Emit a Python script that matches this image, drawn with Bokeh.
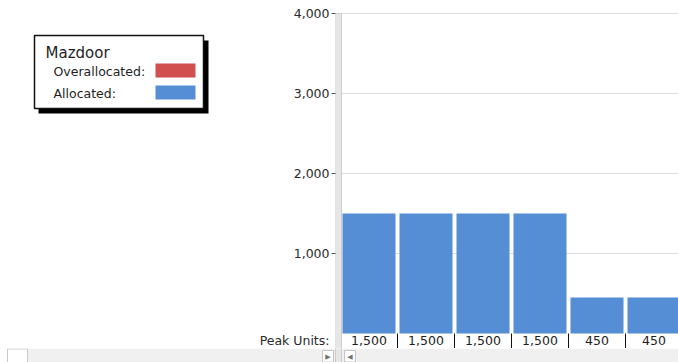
import math
from bokeh.plotting import figure
from bokeh.layouts import row, column
from bokeh.models import Range1d, FixedTicker, NumeralTickFormatter, LinearAxis
from bokeh.core.properties import value
from bokeh.embed import file_html
from bokeh.resources import INLINE

# ---------------- data ----------------
resource_name = "Mazdoor"
periods = [0, 1, 2, 3, 4, 5]
allocated = [1500, 1500, 1500, 1500, 450, 450]
overallocated = [0, 0, 0, 0, 0, 0]
y_ticks = [1000, 2000, 3000, 4000]
legend_labels = ["Overallocated:", "Allocated:"]
row_label = "Peak Units:"

# ---------------- style / geometry ----------------
BLUE = "#558ed5"
RED = "#d14f4f"
FONT = "DejaVu Sans"
TXT = "#1e1e1e"
STRIP = "#f0f0f0"

W, H = 678, 362
TOP_H = 348            # height of chart row (scroll strip below)
LEFT_W = 250
PX_PER_PERIOD = 57.0
ORIGIN_PX = 340.0      # pixel x where period 0 starts
FRAME_LEFT_PX = 335.0
ZERO_PX = 333.0        # pixel y of value 0
PX_PER_UNIT = 80.0 / 1000.0
BAR_W = 53.0 / PX_PER_PERIOD


def px(p):
    return (p - ORIGIN_PX) / PX_PER_PERIOD


def py(p):
    return (ZERO_PX - p) / PX_PER_UNIT


x_start = px(FRAME_LEFT_PX)
x_end = px(W)
y_end = py(0)
y_start = py(TOP_H)
row_y = py(340)

# ---------------- right chart ----------------
p = figure(width=W - LEFT_W, height=TOP_H,
           x_range=Range1d(x_start, x_end), y_range=Range1d(y_start, y_end),
           output_backend="svg", toolbar_location=None,
           x_axis_location=None, min_border=0,
           min_border_left=int(FRAME_LEFT_PX - LEFT_W))
p.outline_line_color = None
p.background_fill_color = "white"
p.border_fill_color = "white"

# inner axis: tick marks only
ax_t = p.yaxis[0]
ax_t.ticker = FixedTicker(ticks=y_ticks)
ax_t.major_label_overrides = {t: "" for t in y_ticks}
ax_t.major_label_text_font_size = "1px"
ax_t.major_label_standoff = 0
ax_t.axis_line_color = None
ax_t.major_tick_in = 0
ax_t.major_tick_out = 4
ax_t.major_tick_line_color = "#555555"
ax_t.minor_tick_line_color = None

# outer axis: labels (value ticks + row caption)
lab_ticks = y_ticks + [row_y]
ax_l = LinearAxis(ticker=FixedTicker(ticks=lab_ticks),
                  formatter=NumeralTickFormatter(format="0,0"),
                  major_label_overrides={row_y: row_label})
ax_l.axis_line_color = None
ax_l.major_tick_line_color = None
ax_l.minor_tick_line_color = None
ax_l.major_tick_in = 0
ax_l.major_tick_out = 0
ax_l.major_label_standoff = 2
ax_l.major_label_text_font = FONT
ax_l.major_label_text_font_size = "12.5px"
ax_l.major_label_text_color = "#2a2a2a"
p.add_layout(ax_l, "left")

p.xgrid.visible = False
p.ygrid.ticker = FixedTicker(ticks=y_ticks)
p.ygrid.grid_line_color = "#dddddd"
p.ygrid.grid_line_width = 1

centers = [i + 0.5 for i in periods]
totals = [a + o for a, o in zip(allocated, overallocated)]
p.vbar(x=centers, top=allocated, width=BAR_W, bottom=0, fill_color=BLUE, line_color=None)
p.vbar(x=centers, bottom=allocated, top=totals, width=BAR_W, fill_color=RED, line_color=None)

# peak units row
bounds = [i + 1 for i in periods]
p.segment(x0=bounds, y0=[0] * len(bounds), x1=bounds, y1=[y_start] * len(bounds),
          line_color="#111111", line_width=1)
p.text(x=centers, y=[row_y] * len(centers), text=["{:,}".format(v) for v in totals],
       text_font=value(FONT), text_font_size="12.5px", text_color=TXT,
       text_align="center", text_baseline="middle")

# vertical divider band
p.quad(left=x_start, right=px(341), top=y_ticks[-1], bottom=y_start,
       fill_color="#e6e6e6", line_color="#cccccc", line_width=1)

# ---------------- left panel (legend) ----------------
L = figure(width=LEFT_W, height=TOP_H, x_range=Range1d(0, LEFT_W), y_range=Range1d(TOP_H, 0),
           output_backend="svg", toolbar_location=None,
           x_axis_location=None, y_axis_location=None, min_border=0)
L.outline_line_color = None
L.grid.visible = False

L.quad(left=38, right=208, top=40, bottom=113, fill_color="black", line_color=None)
L.quad(left=34, right=203, top=35, bottom=108, fill_color="white",
       line_color="#111111", line_width=1.5)
L.text(x=[45], y=[52], text=[resource_name], text_font=value(FONT), text_font_size="15px",
       text_color=TXT, text_baseline="middle")
L.text(x=[53, 53], y=[70.5, 92.5], text=legend_labels, text_font=value(FONT),
       text_font_size="12.5px", text_color=TXT, text_baseline="middle")
L.quad(left=[155, 155], right=[195, 195], top=[63, 85], bottom=[77, 99],
       fill_color=[RED, BLUE], line_color=None)

# ---------------- bottom scroll strip ----------------
SH = H - TOP_H
S = figure(width=W, height=SH, x_range=Range1d(0, W), y_range=Range1d(H, TOP_H),
           output_backend="svg", toolbar_location=None,
           x_axis_location=None, y_axis_location=None, min_border=0)
S.outline_line_color = None
S.grid.visible = False
S.quad(left=27, right=W, top=TOP_H, bottom=H, fill_color=STRIP, line_color=None)
S.quad(left=7, right=27, top=TOP_H + 0.5, bottom=H + 1, fill_color="white",
       line_color="#c8c8c8", line_width=1)
S.quad(left=[322, 344], right=[333, 355], top=[350, 350], bottom=[361.5, 361.5],
       fill_color="white", line_color="#c5c5c5", line_width=1)
S.text(x=[327.5, 349.5], y=[356, 356], text=["\u25b6", "\u25c0"], text_font=value(FONT),
       text_font_size="7px", text_color="#707070", text_align="center", text_baseline="middle")
S.quad(left=FRAME_LEFT_PX, right=341, top=TOP_H - 1, bottom=H + 1,
       fill_color="#e6e6e6", line_color="#cccccc", line_width=1)

layout = column(row(L, p, spacing=0), S, spacing=0)
open("out.html", "w").write(file_html(layout, INLINE))
